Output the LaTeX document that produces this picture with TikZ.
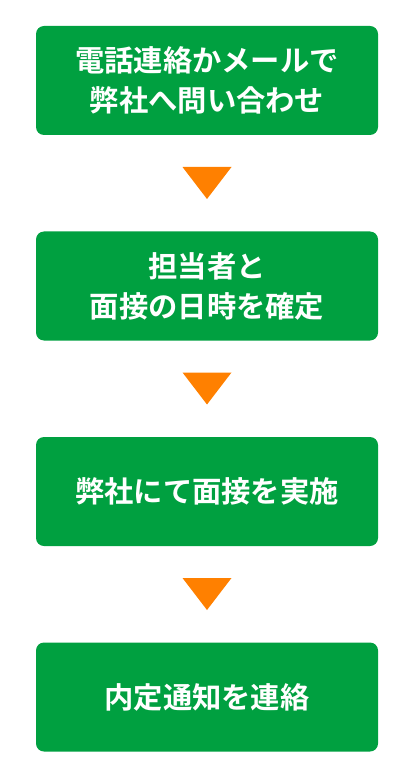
\documentclass[tikz,border=0pt]{standalone}
\usepackage{fontspec}
\newfontfamily\jpfont{Noto Sans CJK JP Bold}
\definecolor{boxgreen}{HTML}{00A040}
\definecolor{arroworange}{HTML}{FF8000}
\begin{document}
\begin{tikzpicture}[x=1pt,y=-1pt,
  stepbox/.style={fill=boxgreen, rounded corners=8pt, minimum width=342pt, minimum height=109pt, inner sep=0pt,
    text=white, align=center, font=\jpfont\fontsize{29.3}{40}\selectfont},
  tri/.style={fill=arroworange}]
\useasboundingbox (0,0) rectangle (414,783);
\node[stepbox] (b1) at (207,80.5) {電話連絡かメールで\\弊社へ問い合わせ};
\node[stepbox] (b2) at (207,286) {担当者と\\面接の日時を確定};
\node[stepbox] (b3) at (207,491.5) {弊社にて面接を実施};
\node[stepbox] (b4) at (207,697) {内定通知を連絡};
\foreach \t in {167,372.5,578}{
  \fill[tri] (182.5,\t) -- (231.5,\t) -- (207,\t+32) -- cycle;
}
\end{tikzpicture}
\end{document}
